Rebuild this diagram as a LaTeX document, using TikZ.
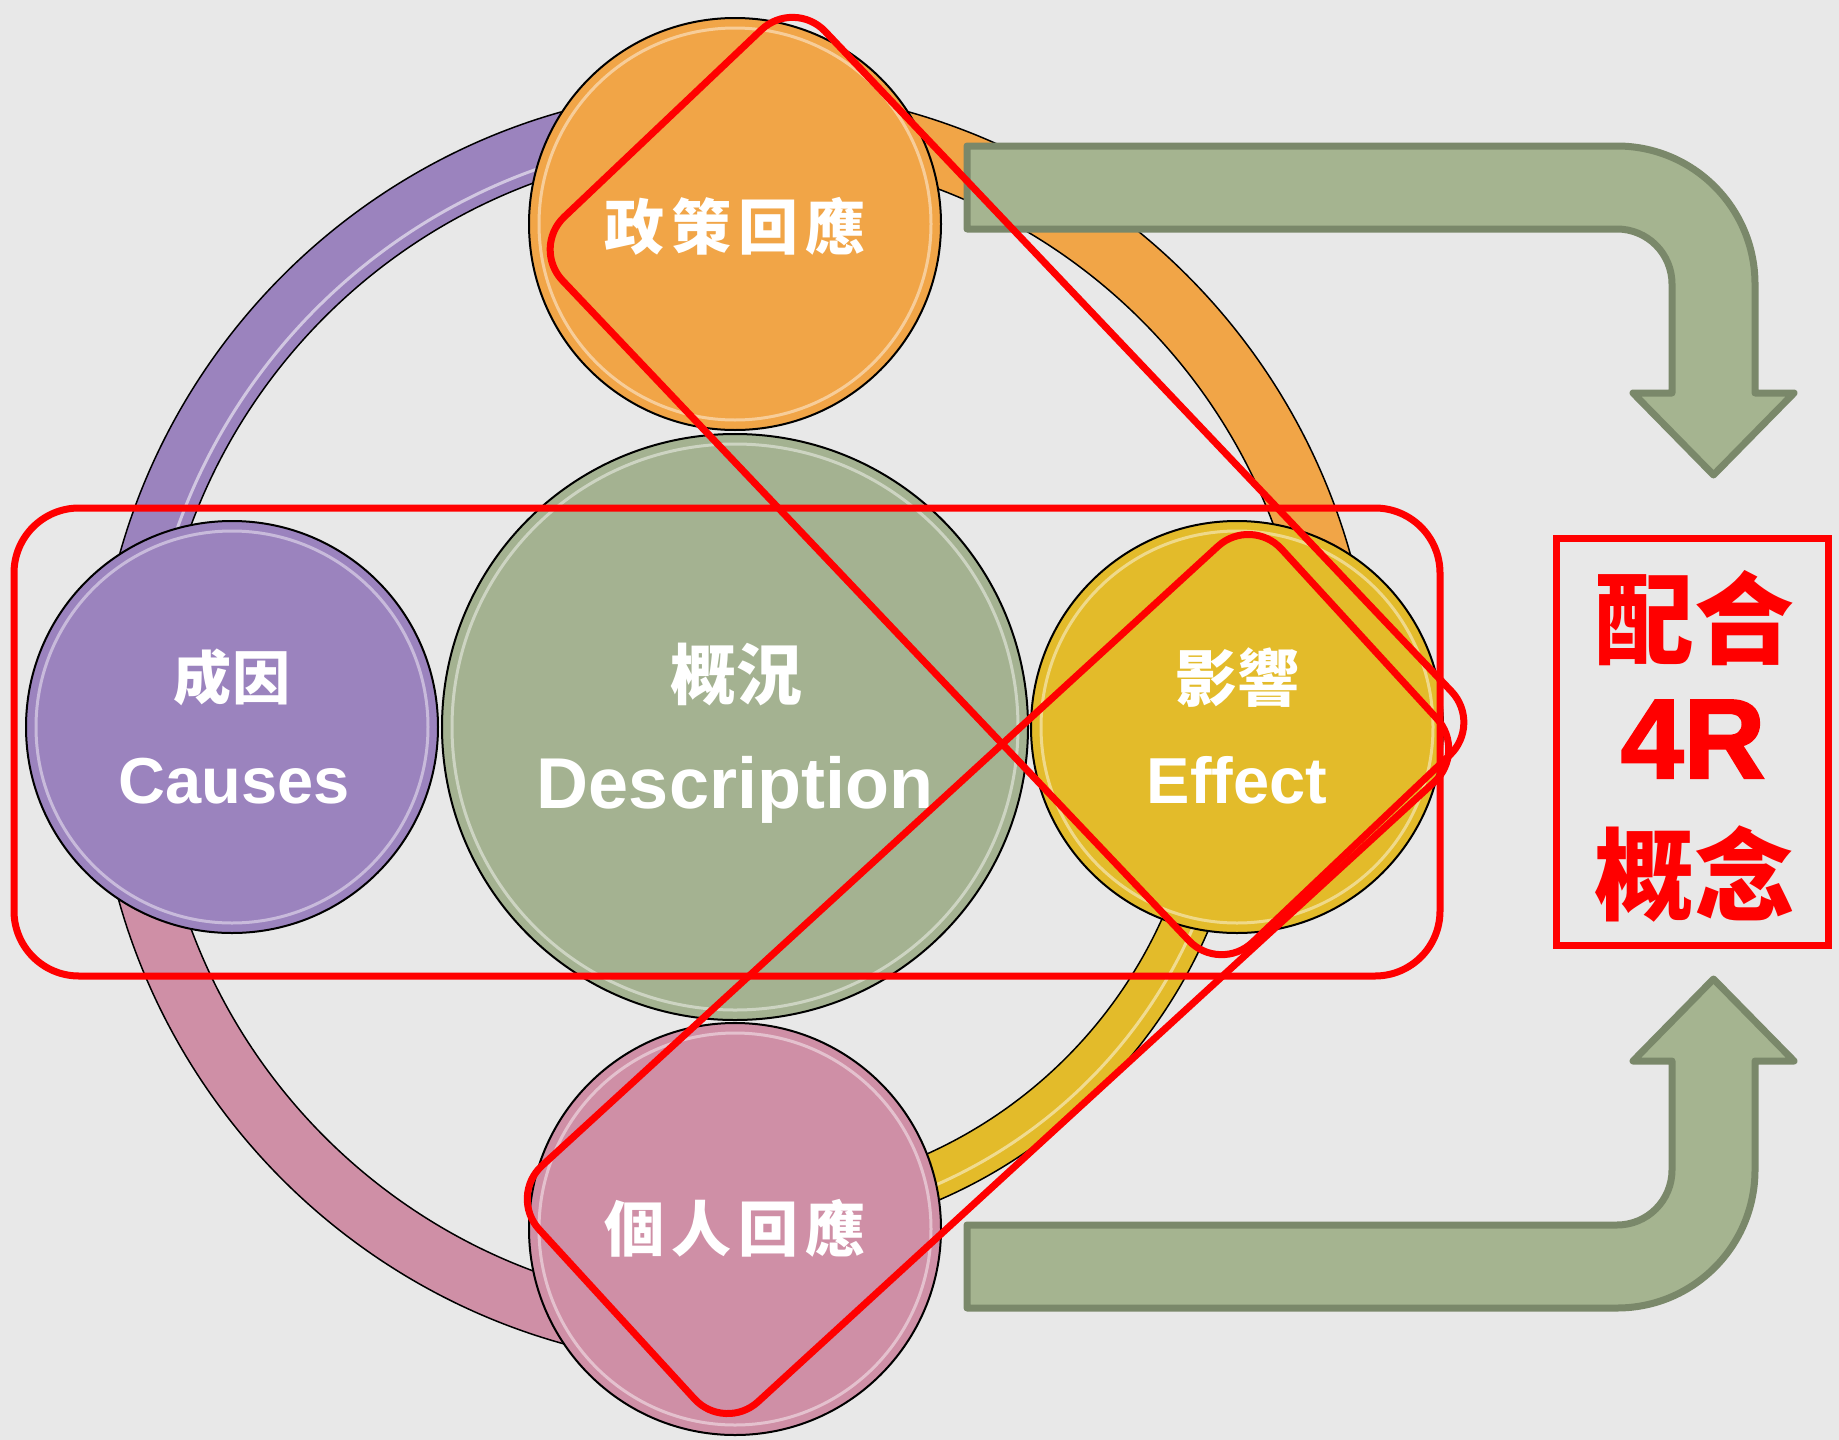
\documentclass[tikz,border=0pt]{standalone}
\usepackage{fontspec}
\setmainfont{Liberation Sans}
\newfontfamily\cjk{Noto Sans CJK TC}
\newfontfamily\heavy{Liberation Sans Bold}[FakeBold=2]
\usetikzlibrary{calc}
\definecolor{bgc}{RGB}{232,232,232}
\definecolor{corange}{RGB}{241,165,71}
\definecolor{cpurple}{RGB}{155,131,190}
\definecolor{cgreen}{RGB}{164,178,145}
\definecolor{cyellow}{RGB}{227,187,42}
\definecolor{cpink}{RGB}{207,143,166}
\definecolor{agreen}{RGB}{165,180,144}
\definecolor{aedge}{RGB}{122,136,106}
\definecolor{redc}{RGB}{255,0,0}
\newcommand\setfs[1]{\fontsize{#1pt}{#1pt}\selectfont}
\newcommand\ringseg[5]{%
  \filldraw[fill=#1, draw=black, line width=1.5pt]
    ($(C)+(#2:#5)$) arc[start angle=#2, end angle=#3, radius=#5]
    -- ($(C)+(#3:#4)$) arc[start angle=#3, end angle=#2, radius=#4] -- cycle;}
\begin{document}
\begin{tikzpicture}[x=1pt,y=-1pt,
  bub/.style={circle, draw=black, line width=2pt, minimum size=412pt, inner sep=0pt},
  rim/.style={white, opacity=.45, line width=3pt},
  cjktxt/.style={inner sep=0pt, text=white, font=\cjk\bfseries},
  entxt/.style={inner sep=0pt, text=white, font=\bfseries, anchor=base},
  arrowshape/.style={fill=agreen, draw=aedge, line width=7pt, line join=round},
  redline/.style={draw=redc, line width=7pt, inner sep=0pt}]
\useasboundingbox (0,0) rectangle (1839,1440);
\fill[bgc] (0,0) rectangle (1839,1440);
\coordinate (C) at (735,727);
% ring segments
\ringseg{cpurple}{180}{270}{580}{639}
\ringseg{corange}{270}{360}{575}{639}
\ringseg{cyellow}{0}{90}{468}{515}
\ringseg{cpink}{90}{180}{580}{640}
\draw[white, opacity=.55, line width=3pt] ($(C)+(185:592)$) arc[start angle=185, end angle=262, radius=592];
\draw[white!60!cyellow, opacity=.8, line width=3pt] ($(C)+(8:500)$) arc[start angle=8, end angle=82, radius=500];
% circles
\node[bub, fill=corange] (policy) at (735,224) {};
\node[bub, fill=cpink] (personal) at (735,1229) {};
\node[bub, fill=cpurple] (causes) at (232,727) {};
\node[bub, fill=cyellow] (effect) at (1237,727) {};
\node[bub, fill=cgreen, minimum size=586pt] (descr) at (735,727) {};
\draw[rim] (policy.center) circle[radius=196];
\draw[rim] (personal.center) circle[radius=196];
\draw[rim] (causes.center) circle[radius=196];
\draw[rim] (effect.center) circle[radius=196];
\draw[rim] (descr.center) circle[radius=283];
% circle texts
\node[cjktxt, font=\cjk\bfseries\setfs{60}] (tpolicy) at (735,226) {政\kern7pt 策\kern7pt 回\kern7pt 應};
\node[cjktxt, font=\cjk\bfseries\setfs{60}] (tpersonal) at (735,1228) {個\kern7pt 人\kern7pt 回\kern7pt 應};
\node[cjktxt, font=\cjk\bfseries\setfs{58}] (tcauses) at (232,677) {成\kern2pt 因};
\node[entxt, font=\bfseries\setfs{65}] (ecauses) at (234,803) {Causes};
\node[cjktxt, font=\cjk\bfseries\setfs{66}] (tdescr) at (736,675) {概況};
\node[entxt, font=\bfseries\setfs{72}] (edescr) at (735,808) {Description};
\node[cjktxt, font=\cjk\bfseries\setfs{62}] (teffect) at (1237,678) {影響};
\node[entxt, font=\bfseries\setfs{65}] (eeffect) at (1237,803) {Effect};
% bent arrows
\path[arrowshape] (967,146) -- (1617,146) arc[start angle=-90, end angle=0, radius=138]
  -- (1755,393) -- (1794,393) -- (1713.5,475) -- (1633,393) -- (1672,393) -- (1672,284)
  arc[start angle=0, end angle=-90, radius=55] -- (967,229) -- cycle;
\path[arrowshape] (967,1308) -- (1617,1308) arc[start angle=90, end angle=0, radius=138]
  -- (1755,1061) -- (1794,1061) -- (1713.5,979) -- (1633,1061) -- (1672,1061) -- (1672,1170)
  arc[start angle=0, end angle=90, radius=55] -- (967,1225) -- cycle;
% red annotations
\node[redline, rounded corners=65pt, minimum width=1426pt, minimum height=468pt] (focus) at (727,742) {};
\node[redline, rounded corners=45pt, minimum width=1000pt, minimum height=362pt, rotate=-46.5] (ringA) at (1007,486) {};
\node[redline, rounded corners=45pt, minimum width=1007pt, minimum height=320pt, rotate=42.5] (ringB) at (988,974) {};
\node[redline, line width=7pt, minimum width=272pt, minimum height=407pt] (rbox) at (1692,741.5) {};
\node[inner sep=0pt, text=redc, font=\cjk\bfseries\setfs{100}] (r1) at (1694,618) {配合};
\node[inner sep=0pt, text=redc, font=\heavy\setfs{113}, anchor=base] (r2) at (1693,778) {4R};
\node[inner sep=0pt, text=redc, font=\cjk\bfseries\setfs{100}] (r3) at (1694,874) {概念};
\end{tikzpicture}
\end{document}
